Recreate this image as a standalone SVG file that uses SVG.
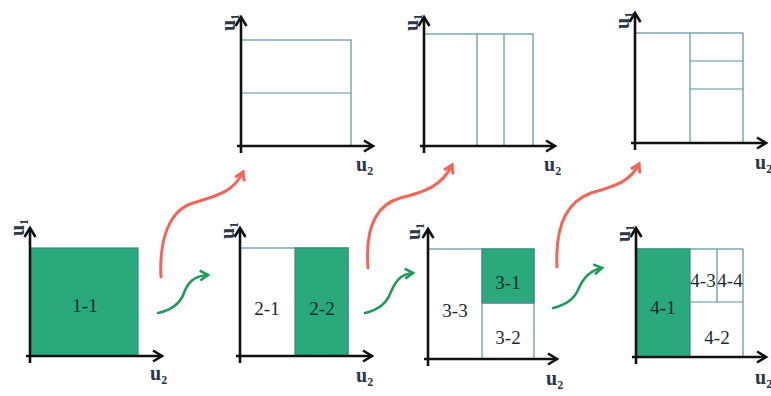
<svg xmlns="http://www.w3.org/2000/svg" width="771" height="396" viewBox="0 0 771 396">
<style>
.bg{fill:#fff}
.ax{stroke:#111;stroke-width:2.6;fill:none;marker-end:url(#ah)}
.cell{fill:#fff;stroke:#5a90a0;stroke-width:1.2}
.sel{fill:#29a97c;stroke:#3a8a80;stroke-width:1.2}
.div{stroke:#5a90a0;stroke-width:1.2;fill:none}
.num{font-family:"Liberation Serif","DejaVu Serif","Times New Roman",serif;font-size:19px;fill:#1c2b2e;text-anchor:middle}
.lab{font-family:"Liberation Serif","DejaVu Serif","Times New Roman",serif;font-size:20px;font-weight:bold;fill:#2a3848}
.sub{font-size:12px}
.red{stroke:#f0665a;stroke-width:3;fill:none;stroke-linecap:round;marker-end:url(#rh)}
.grn{stroke:#1f9a5c;stroke-width:2.6;fill:none;stroke-linecap:round;marker-end:url(#gh)}
</style>
<defs>
<marker id="ah" markerUnits="userSpaceOnUse" markerWidth="24" markerHeight="24" viewBox="-12 -12 24 24" refX="0" refY="0" orient="auto">
<path d="M-9,-5.5 L0,0 L-9,5.5" fill="none" stroke="#111" stroke-width="2.6"/>
</marker>
<marker id="rh" markerUnits="userSpaceOnUse" markerWidth="24" markerHeight="24" viewBox="-12 -12 24 24" refX="0" refY="0" orient="auto">
<path d="M-8,-5 L0,0 L-8,5" fill="none" stroke="#f0665a" stroke-width="3"/>
</marker>
<marker id="gh" markerUnits="userSpaceOnUse" markerWidth="24" markerHeight="24" viewBox="-12 -12 24 24" refX="0" refY="0" orient="auto">
<path d="M-8,-5 L0,0 L-8,5" fill="none" stroke="#1f9a5c" stroke-width="2.6"/>
</marker>
</defs>
<rect class="bg" x="0" y="0" width="771" height="396"/>

<g id="panel-1">
<rect class="sel" x="30" y="248" width="108" height="108"/>
<text class="num" x="85" y="312" font-family="Liberation Serif, serif">1-1</text>
<line class="ax" x1="30" y1="363" x2="30" y2="228"/>
<line class="ax" x1="26" y1="356" x2="162" y2="356"/>
<text class="lab" transform="translate(24,236) rotate(-90)">u<tspan class="sub" dy="4">1</tspan></text>
<text class="lab" x="150" y="380">u<tspan class="sub" dy="4">2</tspan></text>
</g>

<g id="panel-2-top">
<rect class="cell" x="241" y="40" width="110" height="106"/>
<line class="div" x1="241" y1="93" x2="351" y2="93"/>
<line class="ax" x1="241" y1="153" x2="241" y2="17"/>
<line class="ax" x1="237" y1="146" x2="373" y2="146"/>
<text class="lab" transform="translate(235,31) rotate(-90)">u<tspan class="sub" dy="4">1</tspan></text>
<text class="lab" x="356" y="171">u<tspan class="sub" dy="4">2</tspan></text>
</g>

<g id="panel-2-bottom">
<rect class="cell" x="240" y="248" width="108" height="108"/>
<rect class="sel" x="295" y="248" width="53" height="108"/>
<text class="num" x="267" y="315">2-1</text>
<text class="num" x="322" y="315">2-2</text>
<line class="ax" x1="240" y1="363" x2="240" y2="228"/>
<line class="ax" x1="236" y1="356" x2="372" y2="356"/>
<text class="lab" transform="translate(234,239) rotate(-90)">u<tspan class="sub" dy="4">1</tspan></text>
<text class="lab" x="356" y="382">u<tspan class="sub" dy="4">2</tspan></text>
</g>

<g id="panel-3-top">
<rect class="cell" x="424" y="34" width="109" height="112"/>
<line class="div" x1="477" y1="34" x2="477" y2="146"/>
<line class="div" x1="504" y1="34" x2="504" y2="146"/>
<line class="ax" x1="424" y1="153" x2="424" y2="17"/>
<line class="ax" x1="420" y1="146" x2="555" y2="146"/>
<text class="lab" transform="translate(418,31) rotate(-90)">u<tspan class="sub" dy="4">1</tspan></text>
<text class="lab" x="544" y="171">u<tspan class="sub" dy="4">2</tspan></text>
</g>

<g id="panel-3-bottom">
<rect class="cell" x="428" y="249" width="106" height="110"/>
<rect class="sel" x="482" y="249" width="52" height="54"/>
<line class="div" x1="482" y1="249" x2="482" y2="359"/>
<line class="div" x1="482" y1="303" x2="534" y2="303"/>
<text class="num" x="455" y="317">3-3</text>
<text class="num" x="508" y="289">3-1</text>
<text class="num" x="508" y="344">3-2</text>
<line class="ax" x1="428" y1="366" x2="428" y2="229"/>
<line class="ax" x1="424" y1="359" x2="557" y2="359"/>
<text class="lab" transform="translate(420,240) rotate(-90)">u<tspan class="sub" dy="4">1</tspan></text>
<text class="lab" x="546" y="385">u<tspan class="sub" dy="4">2</tspan></text>
</g>

<g id="panel-4-top">
<rect class="cell" x="635" y="33" width="108" height="110"/>
<line class="div" x1="690" y1="33" x2="690" y2="143"/>
<line class="div" x1="690" y1="61" x2="743" y2="61"/>
<line class="div" x1="690" y1="89" x2="743" y2="89"/>
<line class="ax" x1="635" y1="150" x2="635" y2="13"/>
<line class="ax" x1="631" y1="143" x2="766" y2="143"/>
<text class="lab" transform="translate(629,29) rotate(-90)">u<tspan class="sub" dy="4">1</tspan></text>
<text class="lab" x="755" y="169">u<tspan class="sub" dy="4">2</tspan></text>
</g>

<g id="panel-4-bottom">
<rect class="cell" x="636" y="249" width="107" height="108"/>
<rect class="sel" x="636" y="249" width="54" height="108"/>
<line class="div" x1="690" y1="302" x2="743" y2="302"/>
<line class="div" x1="717" y1="249" x2="717" y2="302"/>
<text class="num" x="663" y="314">4-1</text>
<text class="num" x="703" y="287">4-3</text>
<text class="num" x="730" y="287">4-4</text>
<text class="num" x="717" y="344">4-2</text>
<line class="ax" x1="636" y1="364" x2="636" y2="228"/>
<line class="ax" x1="632" y1="357" x2="766" y2="357"/>
<text class="lab" transform="translate(630,242) rotate(-90)">u<tspan class="sub" dy="4">1</tspan></text>
<text class="lab" x="755" y="384">u<tspan class="sub" dy="4">2</tspan></text>
</g>

<g id="connectors">
<path class="red" d="M161,277 C159,238 170,210 193,203 C216,196 234,192 243,172"/>
<path class="grn" d="M158,313 C172,310 180,304 184,293 C188,282 194,276 208,275"/>
<path class="red" d="M368,268 C365,229 376,205 400,198 C425,192 442,186 452,165"/>
<path class="grn" d="M365,313 C378,310 386,304 390,294 C395,282 400,274 413,273"/>
<path class="red" d="M557,267 C555,226 566,202 591,193 C615,186 630,182 639,164"/>
<path class="grn" d="M553,308 C566,305 574,299 578,290 C583,278 590,270 602,268"/>
</g>
</svg>
